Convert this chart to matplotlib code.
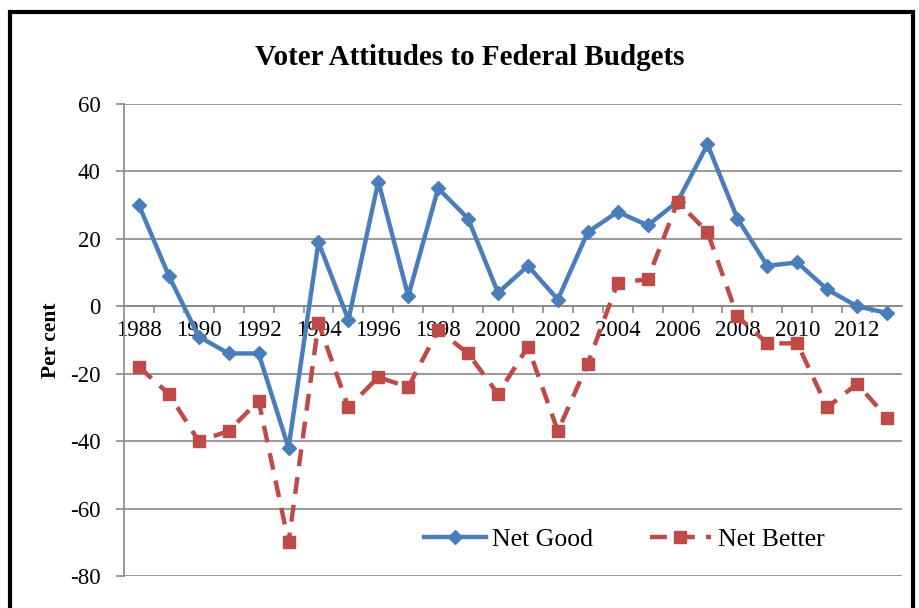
import numpy as np
import matplotlib
matplotlib.use('Agg')
import matplotlib.pyplot as plt
from matplotlib.patches import Rectangle

years = list(range(1988, 2014))
net_good = [30, 9, -9, -14, -14, -42, 19, -4, 37, 3, 35, 26, 4,
            12, 2, 22, 28, 24, 31, 48, 26, 12, 13, 5, 0, -2]
net_better = [-18, -26, -40, -37, -28, -70, -5, -30, -21, -24, -7, -14, -26,
              -12, -37, -17, 7, 8, 31, 22, -3, -11, -11, -30, -23, -33]

blue = '#4A7EBB'
red = '#BE4B48'
grid_col = '#898989'

plt.rcParams['font.family'] = ['Liberation Serif', 'DejaVu Serif']
plt.rcParams['axes.unicode_minus'] = False

fig = plt.figure(figsize=(9.19, 6.08), dpi=100)
ax = fig.add_axes([0.1349, 0.0526, 0.8466, 0.7764])

x = np.arange(len(years))
ax.plot(x, net_good, color=blue, lw=3.2, marker='D', ms=7, label='Net Good', zorder=3)
ax.plot(x, net_better, color=red, lw=3.2, ls=(0, (3.8, 2.5)), marker='s', ms=9,
        label='Net Better', zorder=3)

ax.set_xlim(-0.5, len(years) - 0.5)
ax.set_ylim(-80, 60)
ax.set_yticks(np.arange(-80, 61, 20))
ax.yaxis.grid(True, color=grid_col, lw=1.2)
ax.set_axisbelow(True)

for s in ['top', 'right']:
    ax.spines[s].set_visible(False)
ax.spines['bottom'].set_position(('data', 0))
ax.spines['bottom'].set_color(grid_col)
ax.spines['bottom'].set_linewidth(1.2)
ax.spines['left'].set_color(grid_col)
ax.spines['left'].set_linewidth(1.2)

# tick marks at category boundaries, labels at every other category
ax.set_xticks(np.arange(0.5, len(years) - 0.5, 1))
ax.set_xticklabels([])
ax.set_xticks(x[::2], minor=True)
ax.set_xticklabels([str(y) for y in years[::2]], minor=True)
ax.tick_params(axis='x', which='major', direction='out', length=5, width=1.2, color=grid_col)
ax.tick_params(axis='x', which='minor', length=0, pad=10, labelsize=16.5)
ax.tick_params(axis='y', direction='out', length=6, width=1.2, color=grid_col,
               pad=11, labelsize=16.5)

ax.set_ylabel('Per cent', fontsize=15.5, fontweight='bold', labelpad=6)

ax.legend(loc='center', bbox_to_anchor=(0.643, 0.078), ncol=2, frameon=False,
          fontsize=18.5, handlelength=2.4, handletextpad=0.25, columnspacing=2.2)

fig.text(0.511, 0.906, 'Voter Attitudes to Federal Budgets', ha='center', va='center',
         fontsize=21, fontweight='bold')

# chart frame
fig.patches.append(Rectangle((0.011, -0.05), 0.982, 1.03, transform=fig.transFigure,
                             fill=False, edgecolor='black', lw=3))

fig.savefig('out.png', dpi=100)
